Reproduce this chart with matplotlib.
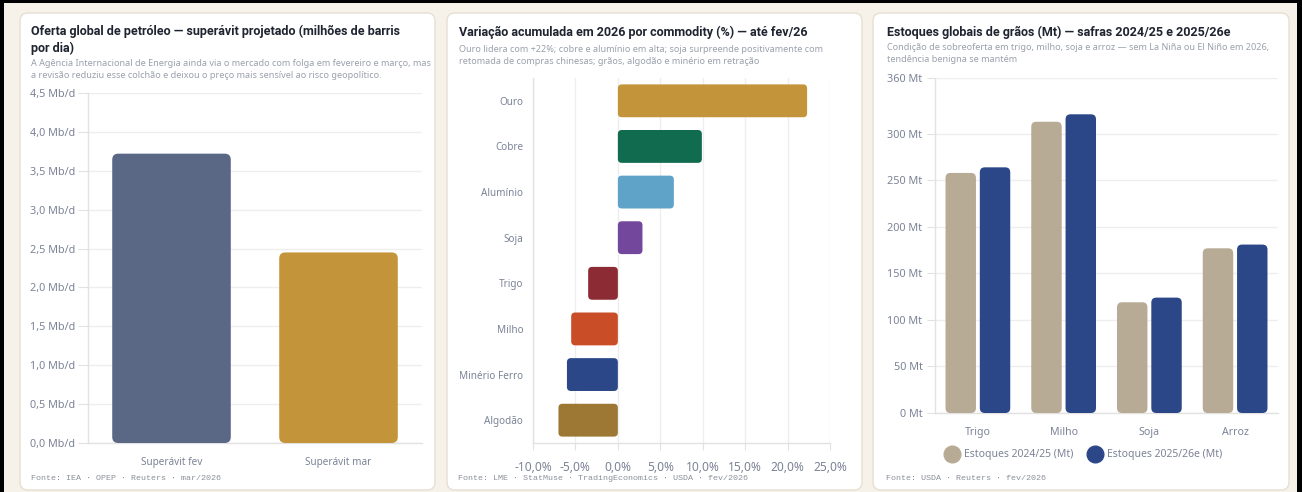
import matplotlib
matplotlib.use("Agg")
import matplotlib.pyplot as plt
from matplotlib.patches import FancyBboxPatch, Rectangle
from matplotlib.lines import Line2D
from matplotlib.ticker import FuncFormatter
import numpy as np

W, H = 1302, 492

# ---- dados ----
oil_labels = ["Superávit fev", "Superávit mar"]
oil_values = [3.72, 2.45]
oil_colors = ["#5b6885", "#c4943a"]

comm_labels = ["Ouro", "Cobre", "Alumínio", "Soja", "Trigo", "Milho", "Minério Ferro", "Algodão"]
comm_values = [22.3, 9.9, 6.6, 2.9, -3.5, -5.5, -6.0, -7.0]
comm_colors = ["#c4943a", "#116b4e", "#5fa3c8", "#73489c", "#8c2b33", "#c94d27", "#2c4788", "#9c7834"]

grain_labels = ["Trigo", "Milho", "Soja", "Arroz"]
stock_2425 = [258, 313, 119, 177]
stock_2526 = [264, 321, 124, 181]
grain_series = ["Estoques 2024/25 (Mt)", "Estoques 2025/26e (Mt)"]
grain_colors = ["#b8ab95", "#2c4788"]

SANS = ["Noto Sans", "DejaVu Sans"]
BOLD = ["Roboto", "DejaVu Sans"]
MONO = ["Liberation Mono", "DejaVu Sans Mono"]
plt.rcParams['font.family'] = SANS

C_TITLE = "#1f2430"
C_SUB = "#9aa0ac"
C_TICK = "#7b8396"
C_GRID = "#eeeeee"
C_AXIS = "#e2e2e2"

fig = plt.figure(figsize=(W / 100, H / 100), dpi=100)
fig.patch.set_facecolor("#f6f2ea")

bg = fig.add_axes([0, 0, 1, 1])
bg.set_xlim(0, W)
bg.set_ylim(H, 0)
bg.axis("off")
bg.set_zorder(-5)


def px_axes(x0, y0, x1, y1):
    return fig.add_axes([x0 / W, 1 - y1 / H, (x1 - x0) / W, (y1 - y0) / H])


def card(x0, y0, x1, y1):
    bg.add_patch(FancyBboxPatch((x0, y0), x1 - x0, y1 - y0,
                                boxstyle="round,pad=0,rounding_size=8",
                                fc="white", ec="#e6dfd2", lw=1))


def round_bars(ax, bars, r=5):
    bb = ax.get_position()
    wpx, hpx = bb.width * W, bb.height * H
    xa, xb = ax.get_xlim()
    ya, yb = ax.get_ylim()
    dx = abs(xb - xa) / wpx
    dy = abs(yb - ya) / hpx
    for b in bars:
        x, y = b.get_xy()
        w, h = b.get_width(), b.get_height()
        if w < 0:
            x += w; w = -w
        if h < 0:
            y += h; h = -h
        p = FancyBboxPatch((x, y), w, h,
                           boxstyle=f"round,pad=0,rounding_size={r * dx}",
                           mutation_aspect=dy / dx,
                           fc=b.get_facecolor(), ec="none", zorder=3)
        b.remove()
        ax.add_patch(p)


def style_axes(ax):
    ax.set_facecolor("none")
    for s in ["top", "right"]:
        ax.spines[s].set_visible(False)
    for s in ["left", "bottom"]:
        ax.spines[s].set_color(C_AXIS)
        ax.spines[s].set_linewidth(1)
    ax.tick_params(colors=C_AXIS, labelcolor=C_TICK)
    ax.set_axisbelow(True)


def title(x, y, s):
    bg.text(x, y, s, fontsize=9.0, fontweight="bold", color=C_TITLE, va="center", family=BOLD)


def sub(x, y, s):
    bg.text(x, y, s, fontsize=6.55, color=C_SUB, va="center")


def source(x, y, s):
    bg.text(x, y, s, fontsize=6.05, color="#8a8f99", va="center", family=MONO)


# ---- cartões ----
card(20, 13, 435, 490)
card(447, 13, 862, 490)
card(873, 13, 1289, 490)

# bordas pretas da captura
bg.add_patch(Rectangle((0, 0), W, 3, fc="black", ec="none"))
bg.add_patch(Rectangle((0, 0), 4, H, fc="black", ec="none"))
bg.add_patch(Rectangle((W - 5, 0), 5, H, fc="black", ec="none"))

# ---- textos ----
title(31, 31, "Oferta global de petróleo — superávit projetado (milhões de barris")
title(31, 48, "por dia)")
sub(31, 63, "A Agência Internacional de Energia ainda via o mercado com folga em fevereiro e março, mas")
sub(31, 75, "a revisão reduziu esse colchão e deixou o preço mais sensível ao risco geopolítico.")
source(31, 478, "Fonte: IEA · OPEP · Reuters · mar/2026")

title(459, 32, "Variação acumulada em 2026 por commodity (%) — até fev/26")
sub(459, 49, "Ouro lidera com +22%; cobre e alumínio em alta; soja surpreende positivamente com")
sub(459, 62, "retomada de compras chinesas; grãos, algodão e minério em retração")
source(458, 478, "Fonte: LME · StatMuse · TradingEconomics · USDA · fev/2026")

title(887, 32, "Estoques globais de grãos (Mt) — safras 2024/25 e 2025/26e")
sub(887, 48, "Condição de sobreoferta em trigo, milho, soja e arroz — sem La Niña ou El Niño em 2026,")
sub(887, 60, "tendência benigna se mantém")
source(886, 478, "Fonte: USDA · Reuters · fev/2026")

# ---- painel 1 ----
ax1 = px_axes(88, 93, 422, 443)
style_axes(ax1)
x1 = np.arange(len(oil_labels))
b1 = ax1.bar(x1, oil_values, width=0.71, color=oil_colors)
ax1.set_xlim(-0.5, len(oil_labels) - 0.5)
ax1.set_ylim(0, 4.5)
ax1.set_yticks(np.arange(0, 4.51, 0.5))
ax1.yaxis.set_major_formatter(FuncFormatter(lambda v, p: f"{v:.1f}".replace(".", ",") + " Mb/d"))
ax1.set_xticks(x1)
ax1.set_xticklabels(oil_labels)
ax1.grid(axis="y", color=C_GRID, lw=1)
ax1.tick_params(axis="y", length=7, pad=2, labelsize=7.8)
ax1.tick_params(axis="x", length=0, pad=10, labelsize=7.2)
round_bars(ax1, b1, r=6)

# ---- painel 2 ----
ax2 = px_axes(533, 78, 830, 443)
style_axes(ax2)
y2 = np.arange(len(comm_labels))
b2 = ax2.barh(y2, comm_values, height=0.72, color=comm_colors)
ax2.set_xlim(-10, 25)
ax2.set_ylim(len(comm_labels) - 0.5, -0.5)
ax2.set_xticks(np.arange(-10, 25.1, 5))
ax2.xaxis.set_major_formatter(FuncFormatter(lambda v, p: f"{v:.1f}".replace(".", ",") + "%"))
ax2.set_yticks(y2)
ax2.set_yticklabels(comm_labels)
ax2.grid(axis="x", color=C_GRID, lw=1)
ax2.tick_params(axis="x", length=5, pad=8, labelsize=8.6)
ax2.tick_params(axis="y", length=0, pad=7, labelsize=7.2)
round_bars(ax2, b2, r=4)

# ---- painel 3 ----
ax3 = px_axes(935, 78, 1278, 413)
style_axes(ax3)
x3 = np.arange(len(grain_labels))
bw = 0.355
b3a = ax3.bar(x3 - 0.2, stock_2425, width=bw, color=grain_colors[0])
b3b = ax3.bar(x3 + 0.2, stock_2526, width=bw, color=grain_colors[1])
ax3.set_xlim(-0.5, len(grain_labels) - 0.5)
ax3.set_ylim(0, 360)
ax3.set_yticks([0, 50, 100, 150, 200, 250, 300, 360])
ax3.yaxis.set_major_formatter(FuncFormatter(lambda v, p: f"{v:.0f} Mt"))
ax3.set_xticks(x3)
ax3.set_xticklabels(grain_labels)
ax3.grid(axis="y", color=C_GRID, lw=1)
ax3.tick_params(axis="y", length=6, pad=3, labelsize=7.8)
ax3.tick_params(axis="x", length=0, pad=10, labelsize=7.6)
round_bars(ax3, list(b3a) + list(b3b), r=5)

handles = [Line2D([], [], ls="none", marker="o", markersize=12, mfc=c, mec=c) for c in grain_colors]
leg = fig.legend(handles, grain_series, loc="center", bbox_to_anchor=(1082 / W, 1 - 455 / H),
                 ncol=2, frameon=False, fontsize=7.5, handletextpad=0.1, columnspacing=1.1,
                 labelcolor=C_TICK)

fig.savefig("out.png", dpi=100, facecolor=fig.get_facecolor())
